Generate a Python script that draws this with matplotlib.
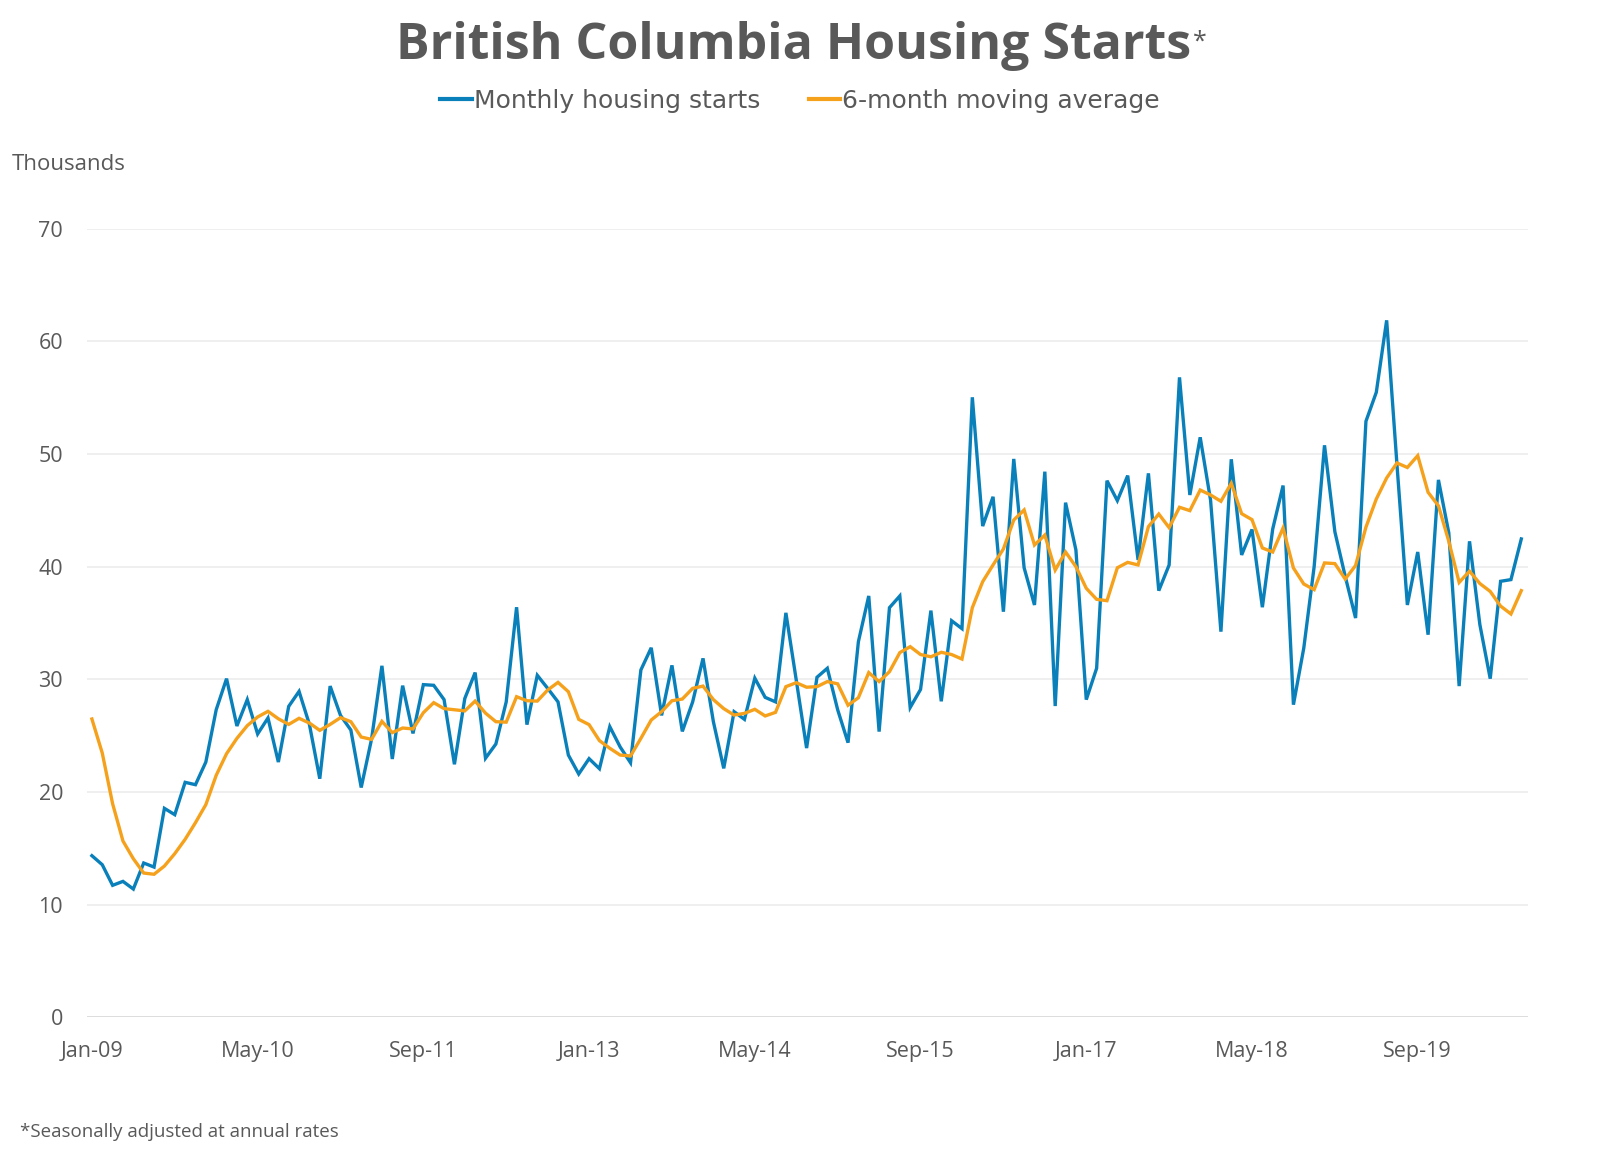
import matplotlib
matplotlib.use("Agg")
import matplotlib.pyplot as plt
import numpy as np

plt.rcParams['font.family'] = ['Open Sans', 'DejaVu Sans']

monthly_starts = [
    14.35, 13.55, 11.72, 12.07, 11.39, 13.7, 13.34, 18.55, 17.99, 20.86, 20.65, 22.66,
    27.3, 30.06, 25.86, 28.2, 25.15, 26.57, 22.66, 27.6, 28.93, 26.0, 21.18, 29.4,
    26.8, 25.5, 20.4, 24.7, 31.2, 22.93, 29.44, 25.2, 29.53, 29.47, 28.2, 22.46,
    28.3, 30.6, 23.0, 24.26, 28.0, 36.4, 25.98, 30.36, 29.2, 28.0, 23.28, 21.6,
    22.96, 22.07, 25.8, 24.0, 22.6, 30.83, 32.8, 26.8, 31.24, 25.38, 28.0, 31.86,
    26.24, 22.1, 27.13, 26.45, 30.1, 28.4, 28.0, 35.9, 29.94, 23.9, 30.18, 30.98,
    27.3, 24.38, 33.34, 37.4, 25.36, 36.36, 37.4, 27.5, 29.1, 36.1, 28.05, 35.2,
    34.5, 55.03, 43.6, 46.2, 36.0, 49.56, 39.9, 36.6, 48.43, 27.63, 45.68, 41.48,
    28.2, 30.98, 47.63, 45.86, 48.08, 40.6, 48.28, 37.87, 40.15, 56.8, 46.36, 51.48,
    45.9, 34.23, 49.53, 41.04, 43.3, 36.4, 43.34, 47.2, 27.75, 32.78, 40.0, 50.77,
    43.1, 39.14, 35.44, 52.9, 55.47, 61.86, 49.0, 36.6, 41.3, 33.96, 47.7, 43.0,
    29.4, 42.25, 34.85, 30.06, 38.7, 38.85, 42.46,
]

moving_avg = [
    26.48, 23.46, 18.96, 15.65, 14.08, 12.81, 12.7, 13.43, 14.53, 15.8, 17.28, 18.88,
    21.48, 23.4, 24.76, 25.89, 26.66, 27.16, 26.5, 26.0, 26.54, 26.12, 25.47, 26.0,
    26.6, 26.24, 24.88, 24.67, 26.27, 25.27, 25.68, 25.6, 27.04, 27.93, 27.4, 27.3,
    27.2, 28.07, 27.0, 26.24, 26.2, 28.46, 28.1, 28.07, 29.05, 29.73, 28.9, 26.45,
    25.98, 24.56, 23.88, 23.28, 23.2, 24.76, 26.39, 27.13, 28.1, 28.25, 29.2, 29.4,
    28.2, 27.4, 26.83, 26.98, 27.34, 26.75, 27.07, 29.35, 29.7, 29.3, 29.35, 29.8,
    29.6, 27.7, 28.37, 30.6, 29.8, 30.68, 32.37, 32.9, 32.2, 32.0, 32.4, 32.2,
    31.8, 36.36, 38.67, 40.15, 41.57, 44.14, 45.03, 41.92, 42.8, 39.7, 41.3, 40.0,
    38.08, 37.1, 36.98, 39.9, 40.38, 40.15, 43.55, 44.67, 43.46, 45.27, 44.97, 46.8,
    46.36, 45.8, 47.4, 44.7, 44.17, 41.66, 41.3, 43.43, 39.88, 38.46, 37.96, 40.33,
    40.27, 38.9, 40.1, 43.5, 46.0, 47.87, 49.2, 48.8, 49.85, 46.6, 45.4, 42.25,
    38.6, 39.6, 38.5, 37.8, 36.5, 35.8, 37.87,
]

tick_labels = ["Jan-09", "May-10", "Sep-11", "Jan-13", "May-14",
               "Sep-15", "Jan-17", "May-18", "Sep-19"]
tick_step = 16  # months between labelled ticks
y_ticks = [0, 10, 20, 30, 40, 50, 60, 70]

BLUE = '#0a80ba'
ORANGE = '#f5a11c'
GRAY = '#595959'

fig = plt.figure(figsize=(16, 11.61), dpi=100)
ax = fig.add_axes([0.0542, 0.1237, 0.9005, 0.6794])

x = np.arange(len(monthly_starts))
ax.plot(x, monthly_starts, color=BLUE, lw=2.4, label='Monthly housing starts',
        solid_joinstyle='miter', zorder=3)
ax.plot(x, moving_avg, color=ORANGE, lw=2.4, label='6-month moving average',
        solid_joinstyle='miter', zorder=3)

ax.set_xlim(-0.5, 138.6)
ax.set_ylim(0, 70)
ax.set_yticks(y_ticks)
ax.set_yticklabels([str(v) for v in y_ticks])
ax.set_xticks(np.arange(len(tick_labels)) * tick_step)
ax.set_xticklabels(tick_labels)
for v in y_ticks[1:]:
    ax.axhline(v, color='#ececec', lw=1.2, zorder=1)
ax.axhline(0, color='#d9d9d9', lw=2.0, zorder=2)
for s in ax.spines.values():
    s.set_visible(False)
ax.tick_params(axis='both', length=0, labelsize=15.5, labelcolor=GRAY)
ax.tick_params(axis='y', pad=17)
ax.tick_params(axis='x', pad=17)

# Title with asterisk
title = fig.text(0.496, 0.9605, 'British Columbia Housing Starts', ha='center', va='center',
                 fontsize=36, fontweight='bold', color=GRAY)
fig.canvas.draw()
bb = title.get_window_extent(fig.canvas.get_renderer())
fig.text(bb.x1 / fig.bbox.width + 0.001, 0.964, '*', ha='left', va='center',
         fontsize=18, color=GRAY)

handles, labels = ax.get_legend_handles_labels()
leg = fig.legend(handles, labels, loc='center', bbox_to_anchor=(0.5, 0.913), ncol=2,
                 frameon=False, prop={'family': 'DejaVu Sans', 'size': 18},
                 handlelength=1.25, handletextpad=0.08, columnspacing=1.95)
for t in leg.get_texts():
    t.set_color(GRAY)
for h in leg.get_lines():
    h.set_linewidth(3)

fig.text(12 / 1600, 1 - 164 / 1161, 'Thousands', ha='left', va='center',
         fontsize=16, color=GRAY)
fig.text(20 / 1600, 1 - 1132 / 1161, '*Seasonally adjusted at annual rates', ha='left',
         va='center', fontsize=13.5, color=GRAY)

fig.savefig('out.png', dpi=100, facecolor='white')
